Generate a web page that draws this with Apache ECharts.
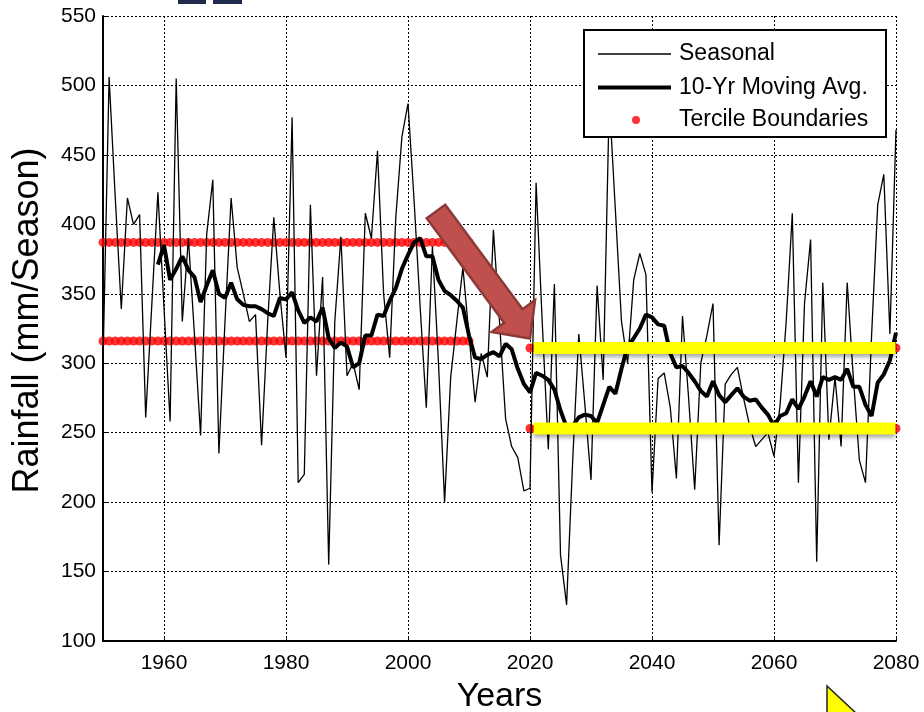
<!DOCTYPE html>
<html><head><meta charset="utf-8">
<script src="https://cdn.jsdelivr.net/npm/echarts@6/dist/echarts.min.js"></script>
<style>html,body{margin:0;padding:0;background:#fff}#c{width:924px;height:712px}</style>
</head><body><div id="c"></div>
<script>
// ---- data ----
const seasonalStart = 1950;
const seasonal = [
  300,506,420,339,419,400,407,261,342,423,   // 1950-1959
  340,258,505,330,390,320,248,393,432,235,   // 1960-1969
  330,419,369,350,330,335,241,330,405,350,   // 1970-1979
  304,477,214,220,414,291,362,155,330,391,   // 1980-1989
  291,300,281,408,390,453,350,304,405,463,   // 1990-1999
  487,417,340,268,384,300,200,290,330,369,   // 2000-2009
  320,272,307,290,396,330,260,240,232,208,   // 2010-2019
  210,430,330,238,357,162,126,230,321,270,   // 2020-2029
  216,356,288,490,410,330,300,360,379,364,   // 2030-2039
  207,289,293,268,217,334,275,209,300,320,   // 2040-2049
  343,169,285,292,297,275,255,240,245,250,   // 2050-2059
  233,270,330,408,214,343,389,157,358,245,   // 2060-2069
  290,240,358,290,230,214,320,414,436,321,   // 2070-2079
  468                                        // 2080
];
const movingStart = 1959;
const movingAvg = [
  371,                                       // 1959
  385,360,368,377,367,362,344,356,367,350,   // 1960-1969
  347,358,346,342,341,341,339,336,334,347,   // 1970-1979
  346,351,338,329,333,330,340,318,311,315,   // 1980-1989
  312,297,300,320,320,335,334,345,354,368,   // 1990-1999
  378,387,390,377,377,360,352,349,345,340,   // 2000-2009
  320,304,303,306,308,305,314,310,296,285,   // 2010-2019
  279,293,291,288,281,266,254,255,261,263,   // 2020-2029
  262,257,270,283,278,296,312,318,325,335,   // 2030-2039
  333,328,327,307,297,298,293,287,280,276,   // 2040-2049
  287,277,272,277,282,276,273,274,268,263,   // 2050-2059
  255,262,264,274,267,276,287,276,290,288,   // 2060-2069
  290,288,296,283,283,270,262,286,292,302,   // 2070-2079
  322                                        // 2080
];
const histPeriod = [1950, 2010];
const histTerciles = [316, 387];
const futPeriod = [2020, 2080];
const futTerciles = [253, 311];
const xTicks = [1960, 1980, 2000, 2020, 2040, 2060, 2080];
const yMin = 100, yMax = 550, yStep = 50;

// ---- build series data ----
const seasonalData = seasonal.map((v, i) => [seasonalStart + i, v]);
const movingData = movingAvg.map((v, i) => [movingStart + i, v]);
const tercileData = [];
[[histPeriod, histTerciles], [futPeriod, futTerciles]].forEach(([p, ts]) => {
  ts.forEach(t => { for (let y = p[0]; y <= p[1]; y++) tercileData.push([y, t]); });
});

const FONT = 'Liberation Sans, Arial, sans-serif';
const chart = echarts.init(document.getElementById('c'), null, {renderer: 'canvas'});

const bandSeries = futTerciles.map(t => ({
  type: 'line', silent: true, showSymbol: false, z: 6,
  data: [[futPeriod[0] + 0.6, t], [futPeriod[1] - 0.1, t]],
  lineStyle: {color: '#ffff00', width: 12, cap: 'butt',
    shadowColor: 'rgba(0,0,0,0.35)', shadowBlur: 4, shadowOffsetY: 3}
}));

const legendBase = {
  orient: 'vertical', z: 20, itemGap: 0, padding: 0, selectedMode: false,
  textStyle: {fontFamily: FONT, fontSize: 23, color: '#000', padding: [0, 0, 0, 3]}
};

// arrow geometry (decoration)
const B = [436, 211.5], dv = [0.595, 0.804], nv = [0.804, -0.595];
const pA = (a, b) => [B[0] + a * dv[0] + b * nv[0], B[1] + a * dv[1] + b * nv[1]];
const arrowPts = [pA(0, 11.5), pA(130, 11.5), pA(130, 27), pA(158, 0), pA(130, -27), pA(130, -11.5), pA(0, -11.5)];

chart.setOption({
  animation: false,
  backgroundColor: '#fff',
  grid: {left: 103, right: 28, top: 16, bottom: 71, containLabel: false, outerBoundsMode: 'none'},
  xAxis: {
    type: 'value', min: 1950, max: 2080,
    name: 'Years', nameLocation: 'middle', nameGap: 39,
    nameTextStyle: {fontFamily: FONT, fontSize: 34, color: '#000'},
    axisLine: {show: true, onZero: false, lineStyle: {color: '#000', width: 2}},
    axisTick: {show: true, inside: true, length: 5, customValues: xTicks, lineStyle: {color: '#000'}},
    axisLabel: {customValues: xTicks, color: '#000', fontFamily: FONT, fontSize: 21, margin: 12,
      formatter: v => String(v)},
    splitLine: {show: true, lineStyle: {color: '#000', width: 1, type: [2, 2]}}
  },
  yAxis: {
    type: 'value', min: yMin, max: yMax, interval: yStep,
    name: 'Rainfall (mm/Season)', nameLocation: 'middle', nameGap: 57,
    nameTextStyle: {fontFamily: FONT, fontSize: 36, color: '#000', padding: [0, 0, 0, 16]},
    axisLine: {show: true, onZero: false, lineStyle: {color: '#000', width: 2}},
    axisTick: {show: true, inside: true, length: 5, lineStyle: {color: '#000'}},
    axisLabel: {color: '#000', fontFamily: FONT, fontSize: 21, margin: 7, formatter: v => String(v)},
    splitLine: {show: true, lineStyle: {color: '#000', width: 1, type: [2, 2]}}
  },
  legend: [
    Object.assign({}, legendBase, {left: 598, top: 42.5, data: [{name: 'Seasonal', icon: 'rect'}],
      itemWidth: 73, itemHeight: 1.5, itemStyle: {color: '#000'}}),
    Object.assign({}, legendBase, {left: 598, top: 76, data: [{name: '10-Yr Moving Avg.', icon: 'rect'}],
      itemWidth: 73, itemHeight: 4, itemStyle: {color: '#000'}}),
    Object.assign({}, legendBase, {left: 632, top: 108.5, data: [{name: 'Tercile Boundaries', icon: 'circle'}],
      itemWidth: 8, itemHeight: 8, itemStyle: {color: '#ff0000'},
      textStyle: Object.assign({}, legendBase.textStyle, {padding: [0, 0, 0, 34]})})
  ],
  series: [
    {name: 'Tercile Boundaries', type: 'scatter', data: tercileData, symbol: 'circle',
      symbolSize: 9, itemStyle: {color: '#ff0000'}, z: 1, silent: true},
    {name: 'Seasonal', type: 'line', data: seasonalData, showSymbol: false, z: 3,
      lineStyle: {color: '#000', width: 1.3}, itemStyle: {color: '#000'}},
    {name: '10-Yr Moving Avg.', type: 'line', data: movingData, showSymbol: false, z: 4,
      lineStyle: {color: '#000', width: 4}, itemStyle: {color: '#000'}}
  ].concat(bandSeries),
  graphic: [
    {type: 'rect', z: 10, shape: {x: 584, y: 30, width: 302, height: 107},
      style: {fill: '#fff', stroke: '#000', lineWidth: 2}},
    {type: 'rect', z: 10, shape: {x: 178, y: -3, width: 28, height: 7}, style: {fill: '#1f2a4c'}},
    {type: 'rect', z: 10, shape: {x: 213, y: -3, width: 29, height: 7}, style: {fill: '#1f2a4c'}},
    {type: 'polygon', z: 30, shape: {points: [[827, 686], [827, 714], [857, 714]]},
      style: {fill: '#ffff00', stroke: '#222', lineWidth: 1.5}},
    {type: 'polygon', z: 30, shape: {points: arrowPts},
      style: {fill: '#c0504d', stroke: '#8c3a38', lineWidth: 2.5, lineJoin: 'miter'}}
  ]
});
</script>
</body></html>
